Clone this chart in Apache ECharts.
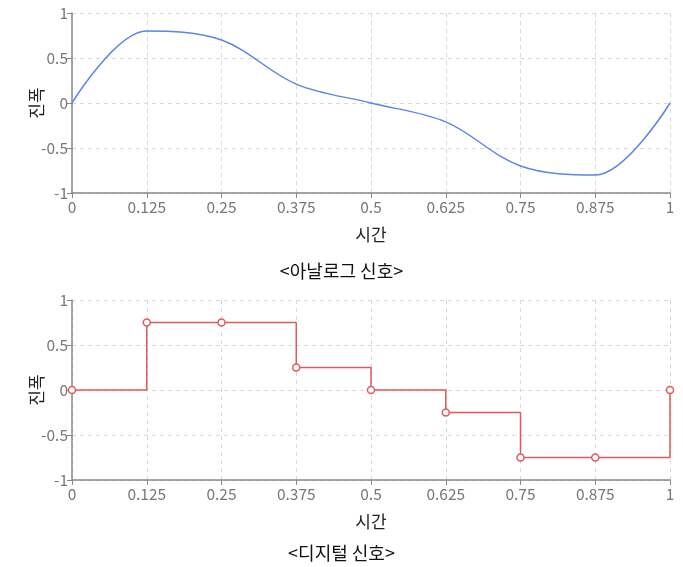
<!DOCTYPE html>
<html><head><meta charset="utf-8">
<script src="https://cdn.jsdelivr.net/npm/echarts@6/dist/echarts.min.js"></script>
<style>html,body{margin:0;padding:0;background:#fff}#c{width:683px;height:567px}</style>
</head><body><div id="c"></div>
<script>
var times = [0, 0.125, 0.25, 0.375, 0.5, 0.625, 0.75, 0.875, 1];
var analogValues = [0, 0.8, 0.7, 0.21, 0, -0.21, -0.7, -0.8, 0];
var digitalValues = [0, 0.75, 0.75, 0.25, 0, -0.25, -0.75, -0.75, 0];
var xTickLabels = ['0', '0.125', '0.25', '0.375', '0.5', '0.625', '0.75', '0.875', '1'];
var yTickLabels = ['-1', '-0.5', '0', '0.5', '1'];
var titles = ['<아날로그 신호>', '<디지털 신호>'];
var xName = '시간', yName = '진폭';

var FONT = '"Noto Sans CJK KR", "Noto Sans", sans-serif';
function xAxis(idx) {
  return {
    type: 'value', gridIndex: idx, min: 0, max: 1, interval: 0.125,
    name: xName, nameLocation: 'middle', nameGap: 33, nameMoveOverlap: false,
    nameTextStyle: {color: '#222', fontSize: 17, fontFamily: FONT},
    axisLine: {onZero: false, lineStyle: {color: '#888', width: 1.5}},
    axisTick: {show: true, length: 5, lineStyle: {color: '#888'}},
    axisLabel: {color: '#777', fontSize: 15.5, fontFamily: FONT, margin: 6,
      formatter: function (v) { var i = times.indexOf(v); return i >= 0 ? xTickLabels[i] : ''; }},
    splitLine: {show: true, lineStyle: {color: '#d8d8d8', type: [4, 4]}}
  };
}
function yAxis(idx) {
  return {
    type: 'value', gridIndex: idx, min: -1, max: 1, interval: 0.5,
    name: yName, nameLocation: 'middle', nameGap: 27, nameMoveOverlap: false,
    nameTextStyle: {color: '#222', fontSize: 17, fontFamily: FONT},
    axisLine: {show: true, onZero: false, lineStyle: {color: '#888', width: 1.5}},
    axisTick: {show: true, length: 5, lineStyle: {color: '#888'}},
    axisLabel: {color: '#777', fontSize: 15.5, fontFamily: FONT, margin: 4,
      formatter: function (v) { return yTickLabels[Math.round((v + 1) / 0.5)]; }},
    splitLine: {show: true, lineStyle: {color: '#d8d8d8', type: [4, 4]}}
  };
}
var chart = echarts.init(document.getElementById('c'));
chart.setOption({
  animation: false,
  title: [
    {text: titles[0], left: 'center', top: 257, textStyle: {fontSize: 18, fontWeight: 'normal', color: '#111', fontFamily: FONT}},
    {text: titles[1], left: 'center', top: 539, textStyle: {fontSize: 18, fontWeight: 'normal', color: '#111', fontFamily: FONT}}
  ],
  grid: [
    {left: 72, right: 13, top: 13, height: 180},
    {left: 72, right: 13, top: 300, height: 180}
  ],
  xAxis: [xAxis(0), xAxis(1)],
  yAxis: [yAxis(0), yAxis(1)],
  series: [
    {type: 'line', xAxisIndex: 0, yAxisIndex: 0, smooth: 0.35, showSymbol: false,
      lineStyle: {color: '#5b86e5', width: 1.5},
      data: times.map(function (t, i) { return [t, analogValues[i]]; })},
    {type: 'line', xAxisIndex: 1, yAxisIndex: 1, step: 'end', symbol: 'circle', symbolSize: 7,
      itemStyle: {color: '#fff', borderColor: '#e05a5a', borderWidth: 1.5},
      lineStyle: {color: '#e05a5a', width: 1.5},
      data: times.map(function (t, i) { return [t, digitalValues[i]]; })}
  ]
});
</script></body></html>
